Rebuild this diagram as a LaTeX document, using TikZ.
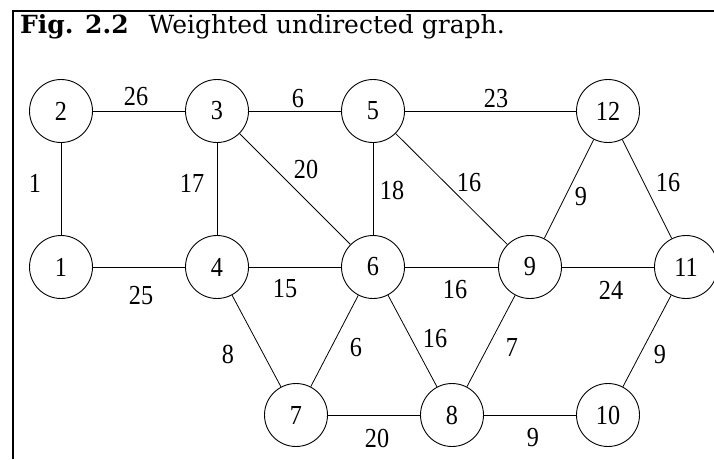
\documentclass[tikz,border=0pt]{standalone}
\usepackage{fontspec}
\setmainfont{Liberation Serif}
\newfontfamily\numfont[FakeStretch=0.88]{Liberation Serif}
\newfontfamily\titlefont{DejaVu Serif}
\begin{document}
\begin{tikzpicture}[x=1pt,y=-1pt,
  vtx/.style={draw,circle,line width=0.9pt,minimum size=63pt,inner sep=0pt,font=\numfont\fontsize{27.5}{28}\selectfont},
  wt/.style={inner sep=0pt,font=\numfont\fontsize{27.5}{28}\selectfont},
  edge/.style={line width=0.8pt},
  frame/.style={line width=2pt}]
\useasboundingbox (0,0) rectangle (714,459);
\coordinate (ftl) at (13,11);
\coordinate (ftr) at (714,11);
\coordinate (fbl) at (13,459);
\draw[frame] (ftr) -- (ftl) -- (fbl);
\node[anchor=base west,inner sep=0pt,font=\titlefont\fontsize{25}{26}\selectfont] (title) at (20,33) {{\bfseries Fig. 2.2}\hspace{20pt}Weighted undirected graph.};
% vertices
\node[vtx] (n1) at (61,267) {1};
\node[vtx] (n2) at (61,111) {2};
\node[vtx] (n3) at (217,111) {3};
\node[vtx] (n4) at (217,267) {4};
\node[vtx] (n5) at (373,111) {5};
\node[vtx] (n6) at (373,267) {6};
\node[vtx] (n7) at (296,415) {7};
\node[vtx] (n8) at (452,415) {8};
\node[vtx] (n9) at (530,267) {9};
\node[vtx] (n10) at (608,415) {10};
\node[vtx] (n11) at (686,267) {11};
\node[vtx] (n12) at (608,111) {12};
% edges
\draw[edge] (n2) -- (n3);
\draw[edge] (n3) -- (n5);
\draw[edge] (n5) -- (n12);
\draw[edge] (n2) -- (n1);
\draw[edge] (n3) -- (n4);
\draw[edge] (n3) -- (n6);
\draw[edge] (n5) -- (n6);
\draw[edge] (n5) -- (n9);
\draw[edge] (n12) -- (n9);
\draw[edge] (n12) -- (n11);
\draw[edge] (n1) -- (n4);
\draw[edge] (n4) -- (n6);
\draw[edge] (n6) -- (n9);
\draw[edge] (n9) -- (n11);
\draw[edge] (n4) -- (n7);
\draw[edge] (n6) -- (n7);
\draw[edge] (n6) -- (n8);
\draw[edge] (n9) -- (n8);
\draw[edge] (n11) -- (n10);
\draw[edge] (n7) -- (n8);
\draw[edge] (n8) -- (n10);
% weights
\node[wt] (w23) at (136,97) {26};
\node[wt] (w35) at (298,99) {6};
\node[wt] (w512) at (496,99) {23};
\node[wt] (w21) at (35,183) {1};
\node[wt] (w34) at (192,183) {17};
\node[wt] (w36) at (306,169) {20};
\node[wt] (w56) at (392,190) {18};
\node[wt] (w59) at (469,183) {16};
\node[wt] (w129) at (581,197) {9};
\node[wt] (w1211) at (668,183) {16};
\node[wt] (w14) at (141,296) {25};
\node[wt] (w46) at (285,289) {15};
\node[wt] (w69) at (455,290) {16};
\node[wt] (w911) at (611,290) {24};
\node[wt] (w47) at (228,354) {8};
\node[wt] (w67) at (356,348) {6};
\node[wt] (w68) at (435,339) {16};
\node[wt] (w98) at (512,347) {7};
\node[wt] (w1110) at (660,355) {9};
\node[wt] (w78) at (377,438) {20};
\node[wt] (w810) at (533,438) {9};
\end{tikzpicture}
\end{document}
